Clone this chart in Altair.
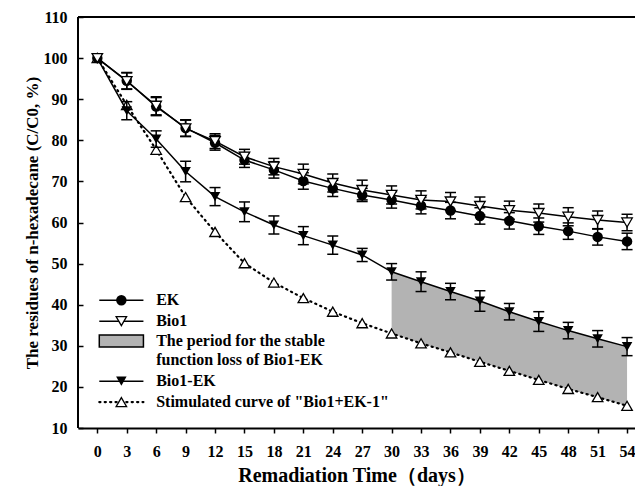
import altair as alt
import pandas as pd

# ---------------- data ----------------
days = list(range(0, 55, 3))
ek = [100, 94.5, 88.2, 83.0, 79.4, 75.2, 72.8, 70.1, 68.3, 66.7, 65.5, 64.1, 62.9, 61.6, 60.4, 59.1, 57.9, 56.5, 55.4]
ek_err = [0, 2.0, 2.2, 2.0, 1.8, 1.8, 2.0, 2.0, 2.0, 1.6, 2.0, 2.0, 2.0, 2.0, 2.0, 2.0, 2.0, 2.0, 2.0]
bio1 = [100, 94.4, 88.4, 82.9, 79.8, 76.0, 73.6, 71.8, 69.6, 67.9, 66.7, 65.5, 65.1, 64.0, 63.0, 62.3, 61.4, 60.6, 60.0]
bio1_err = [0, 2.0, 2.2, 2.0, 1.8, 1.8, 2.0, 2.4, 2.2, 2.4, 2.2, 2.2, 2.2, 2.2, 2.2, 2.2, 2.2, 2.2, 2.0]
bio1ek = [100, 87.2, 80.3, 72.4, 66.3, 62.6, 59.4, 56.8, 54.5, 52.1, 48.0, 45.6, 43.2, 40.9, 38.3, 35.9, 33.7, 31.7, 29.8]
bio1ek_err = [0, 2.2, 2.0, 2.5, 2.2, 2.4, 2.2, 2.2, 2.2, 1.6, 2.0, 2.4, 2.0, 2.5, 2.0, 2.4, 2.0, 2.0, 2.2]
sim = [100, 88.6, 77.7, 66.2, 57.7, 50.1, 45.4, 41.6, 38.3, 35.5, 33.0, 30.6, 28.4, 26.1, 23.9, 21.7, 19.5, 17.5, 15.4]
shade_start = 30

legend_labels = ["EK", "Bio1", "The period for the stable", "function loss of Bio1-EK",
                 "Bio1-EK", "Stimulated curve of \"Bio1+EK-1\""]

x_title = "Remadiation Time（days）"
y_title = "The residues of n-hexadecane (C/C0, %)"
y_ticks = list(range(10, 111, 10))

# ---------------- layout / style ----------------
FONT = "Liberation Serif"
X_DOMAIN = [-1.97, 54.81]
Y_DOMAIN = [10, 110]
# legend layout in data units
LEG_X0, LEG_X1, LEG_XM, LEG_XT = 0.2, 4.7, 2.45, 6.0
LEG_ROWS = [41.1, 36.0, 31.2, 26.5, 21.4, 16.3]
LEG_RECT = (29.7, 32.6)

rows = []
for name, vals, errs in [("EK", ek, ek_err), ("Bio1", bio1, bio1_err), ("Bio1-EK", bio1ek, bio1ek_err)]:
    for d, v, e in zip(days, vals, errs):
        rows.append({"series": name, "day": d, "value": v, "lo": v - e, "hi": v + e, "err": e})
for d, v in zip(days, sim):
    rows.append({"series": "sim", "day": d, "value": v, "lo": v, "hi": v, "err": 0})
df = pd.DataFrame(rows)

shade = pd.DataFrame({"day": days, "top": bio1ek, "bottom": sim})
shade = shade[shade["day"] >= shade_start]

xscale = alt.Scale(domain=X_DOMAIN, nice=False, zero=False)
yscale = alt.Scale(domain=Y_DOMAIN, nice=False, zero=False)

xaxis = alt.Axis(values=days, title=x_title, grid=False, domainColor="black", domainWidth=2,
                 tickColor="black", tickSize=5, tickWidth=1.5, labelFont=FONT, labelFontWeight="bold",
                 labelFontSize=16, labelColor="black", labelPadding=10, labelFlush=False, labelOverlap=False,
                 titleFont=FONT, titleFontSize=20, titleFontWeight="bold", titleColor="black", titlePadding=6)
yaxis = alt.Axis(values=y_ticks, title=y_title, grid=False, domain=False, offset=-5,
                 tickColor="black", tickSize=5, tickWidth=1.5, labelFont=FONT, labelFontWeight="bold",
                 labelFontSize=16, labelColor="black", labelPadding=11, labelFlush=False, labelOverlap=False,
                 titleFont=FONT, titleFontSize=17, titleFontWeight="bold", titleColor="black", titlePadding=2)


def X(field="day"):
    return alt.X(field, type="quantitative", scale=xscale, axis=xaxis)


def Y(field="value"):
    return alt.Y(field, type="quantitative", scale=yscale, axis=yaxis)


base = alt.Chart(df)

area = alt.Chart(shade).mark_area(color="#b3b3b3", opacity=1).encode(
    x=X(), y=Y("top"), y2="bottom")


def series_layers(name, shape, filled_black, dotted=False):
    sub = base.transform_filter(alt.datum.series == name)
    if dotted:
        line = sub.mark_line(color="black", strokeWidth=2.2, strokeDash=[1.2, 4.2], strokeCap="round")
    else:
        line = sub.mark_line(color="black", strokeWidth=1.5)
    line = line.encode(x=X(), y=Y())
    out = [line]
    if not dotted:
        eb = sub.transform_filter(alt.datum.err > 0)
        out.append(eb.mark_rule(color="black", strokeWidth=1.5).encode(x=X(), y=Y("lo"), y2="hi"))
        out.append(eb.mark_tick(color="black", orient="horizontal", size=11, thickness=1.5, opacity=1)
                   .encode(x=X(), y=Y("lo")))
        out.append(eb.mark_tick(color="black", orient="horizontal", size=11, thickness=1.5, opacity=1)
                   .encode(x=X(), y=Y("hi")))
    if filled_black:
        pt = sub.mark_point(shape=shape, filled=True, color="black", size=110, opacity=1)
    else:
        pt = sub.mark_point(shape=shape, filled=True, fill="white", stroke="black", strokeWidth=1.3,
                            size=110, opacity=1)
    out.append(pt.encode(x=X(), y=Y()))
    return out


layers = [area]
layers += series_layers("sim", "triangle-up", False, dotted=True)
layers += series_layers("Bio1-EK", "triangle-down", True)
layers += series_layers("EK", "circle", True)
layers += series_layers("Bio1", "triangle-down", False)

# frame lines (top and left)
frame_top = alt.Chart(pd.DataFrame({"v": [Y_DOMAIN[1]]})).mark_rule(color="black", strokeWidth=2).encode(
    y=Y("v"))
frame_left = alt.Chart(pd.DataFrame({"v": [X_DOMAIN[0]]})).mark_rule(color="black", strokeWidth=2).encode(
    x=X("v"))
layers += [frame_top, frame_left]

# ---------------- legend (drawn in data units) ----------------
leg_solid = pd.DataFrame({"x0": [LEG_X0] * 3, "x1": [LEG_X1] * 3,
                          "y": [LEG_ROWS[0], LEG_ROWS[1], LEG_ROWS[4]]})
layers.append(alt.Chart(leg_solid).mark_rule(color="black", strokeWidth=1.5).encode(
    x=X("x0"), x2="x1", y=Y("y")))
leg_dot = pd.DataFrame({"x": [LEG_X0, LEG_X1], "y": [LEG_ROWS[5]] * 2})
layers.append(alt.Chart(leg_dot).mark_line(color="black", strokeWidth=2.2, strokeDash=[1.2, 4.2],
                                           strokeCap="round").encode(x=X("x"), y=Y("y")))
leg_rect = pd.DataFrame({"x0": [LEG_X0], "x1": [LEG_X1], "y0": [LEG_RECT[0]], "y1": [LEG_RECT[1]]})
layers.append(alt.Chart(leg_rect).mark_rect(fill="#b3b3b3", stroke="black", strokeWidth=1.5).encode(
    x=X("x0"), x2="x1", y=Y("y0"), y2="y1"))
leg_pts = [
    (LEG_ROWS[0], "circle", True),
    (LEG_ROWS[1], "triangle-down", False),
    (LEG_ROWS[4], "triangle-down", True),
    (LEG_ROWS[5], "triangle-up", False),
]
for yv, shp, fb in leg_pts:
    d = pd.DataFrame({"x": [LEG_XM], "y": [yv]})
    if fb:
        m = alt.Chart(d).mark_point(shape=shp, filled=True, color="black", size=110, opacity=1)
    else:
        m = alt.Chart(d).mark_point(shape=shp, filled=True, fill="white", stroke="black", strokeWidth=1.3,
                                    size=110, opacity=1)
    layers.append(m.encode(x=X("x"), y=Y("y")))
leg_text = pd.DataFrame({"x": [LEG_XT] * len(legend_labels), "y": LEG_ROWS, "t": legend_labels})
layers.append(alt.Chart(leg_text).mark_text(align="left", baseline="middle", font=FONT, fontWeight="bold",
                                            fontSize=16, color="black").encode(
    x=X("x"), y=Y("y"), text="t:N"))

chart = alt.layer(*layers).properties(
    width=557, height=411,
    autosize=alt.AutoSizeParams(type="none"),
    padding={"left": 70, "top": 9, "right": 0, "bottom": 58},
    background="white",
).configure_view(stroke=None)

chart.save("out.html", embed_options={"renderer": "svg", "actions": False})
